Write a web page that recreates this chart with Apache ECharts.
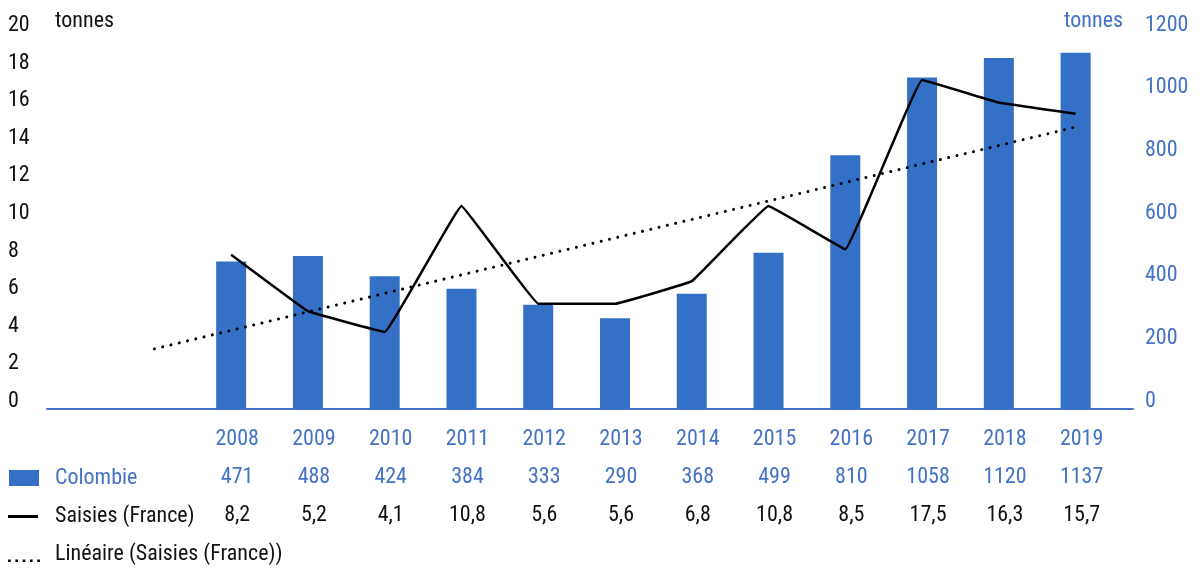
<!DOCTYPE html>
<html>
<head>
<meta charset="utf-8">
<script src="https://cdn.jsdelivr.net/npm/echarts@6/dist/echarts.min.js"></script>
<style>
html,body{margin:0;padding:0;background:#fff;}
#chart{width:1200px;height:579px;}
</style>
</head>
<body>
<div id="chart"></div>
<script>
// ---- data ----
var years = ['', '2008', '2009', '2010', '2011', '2012', '2013', '2014', '2015', '2016', '2017', '2018', '2019'];
var colombie = [null, 471, 488, 424, 384, 333, 290, 368, 499, 810, 1058, 1120, 1137];
var saisies = [null, 8.2, 5.2, 4.1, 10.8, 5.6, 5.6, 6.8, 10.8, 8.5, 17.5, 16.3, 15.7];
// linear trend line endpoints (start one period before 2008, end 2019)
var trend = [3.2, null, null, null, null, null, null, null, null, null, null, null, 15.0];
var leftTicks = [0, 20, 2];
var rightTicks = [0, 1200, 200];

var FONT = '"Roboto Condensed", "Roboto", sans-serif';
var FS = 22;
var BLUE_BAR = '#3370C6';
var BLUE_TXT = '#4472C4';

var chart = echarts.init(document.getElementById('chart'));
chart.setOption({
  animation: false,
  textStyle: { fontFamily: FONT },
  grid: [
    { left: 116, right: 86, top: 33, bottom: 170 },
    { left: 47, right: 67, top: 33, bottom: 170 }
  ],
  legend: {
    orient: 'vertical',
    left: 8,
    top: 466,
    padding: 0,
    itemWidth: 32,
    itemHeight: 16,
    itemGap: 14,
    textStyle: { fontFamily: FONT, fontSize: FS, color: '#111', lineHeight: 24, padding: [0, 0, 0, 10] },
    data: [
      { name: 'Colombie', icon: 'path://M0,0L0,0ZM0,0H30V16H0Z', textStyle: { color: BLUE_TXT } },
      { name: 'Saisies (France)', icon: 'path://M0,0L0,0ZM0,7H30V10H0ZM32,16L32,16Z' },
      { name: 'Linéaire (Saisies (France))', icon: 'path://M0,0L0,0ZM0,13.5H2.6V16H0ZM7.3,13.5H9.9V16H7.3ZM14.6,13.5H17.2V16H14.6ZM21.9,13.5H24.5V16H21.9ZM29.2,13.5H31.8V16H29.2Z' }
    ]
  },
  graphic: [
    { type: 'text', left: 55, top: 10, style: { text: 'tonnes', fontFamily: FONT, fontSize: FS, fill: '#111' } },
    { type: 'text', left: 1064, top: 10, style: { text: 'tonnes', fontFamily: FONT, fontSize: FS, fill: BLUE_TXT } }
  ],
  xAxis: [
    {
      type: 'category',
      gridIndex: 0,
      data: years,
      boundaryGap: true,
      axisLine: { show: false },
      axisTick: { show: false },
      axisLabel: {
        interval: 0,
        margin: 11,
        padding: [0, 0, 0, 12],
        formatter: function (v, i) {
          if (!v) return '';
          var s = String(saisies[i]).replace('.', ',');
          return '{y|' + v + '}\n{c|' + colombie[i] + '}\n{s|' + s + '}';
        },
        rich: {
          y: { fontFamily: FONT, fontSize: FS, color: BLUE_TXT, lineHeight: 38 },
          c: { fontFamily: FONT, fontSize: FS, color: BLUE_TXT, lineHeight: 38 },
          s: { fontFamily: FONT, fontSize: FS, color: '#111', lineHeight: 38 }
        }
      }
    },
    {
      type: 'value',
      gridIndex: 1,
      min: 0, max: 1,
      axisLine: { show: true, lineStyle: { color: BLUE_TXT, width: 2 } },
      axisTick: { show: false },
      axisLabel: { show: false },
      splitLine: { show: false }
    }
  ],
  yAxis: [
    {
      type: 'value',
      gridIndex: 0,
      min: leftTicks[0], max: leftTicks[1], interval: leftTicks[2],
      axisLine: { show: false },
      axisTick: { show: false },
      splitLine: { show: false },
      axisLabel: { align: 'left', verticalAlign: 'bottom', lineHeight: 15, margin: 108, fontFamily: FONT, fontSize: FS, color: '#111' }
    },
    {
      type: 'value',
      gridIndex: 0,
      position: 'right',
      min: rightTicks[0], max: rightTicks[1], interval: rightTicks[2],
      axisLine: { show: false },
      axisTick: { show: false },
      splitLine: { show: false },
      axisLabel: { align: 'left', verticalAlign: 'bottom', lineHeight: 16, margin: 31, fontFamily: FONT, fontSize: FS, color: BLUE_TXT,
        formatter: function (v) { return String(v); } }
    },
    { type: 'value', gridIndex: 1, show: false, min: 0, max: 1 }
  ],
  series: [
    {
      name: 'Colombie',
      type: 'bar',
      xAxisIndex: 0, yAxisIndex: 1,
      data: colombie,
      barWidth: 30,
      itemStyle: { color: BLUE_BAR }
    },
    {
      name: 'Saisies (France)',
      type: 'line',
      xAxisIndex: 0, yAxisIndex: 0,
      data: saisies,
      symbol: 'none',
      smooth: 0.05,
      lineStyle: { color: '#000', width: 2.5 },
      itemStyle: { color: '#000' }
    },
    {
      name: 'Linéaire (Saisies (France))',
      type: 'line',
      xAxisIndex: 0, yAxisIndex: 0,
      data: trend,
      connectNulls: true,
      symbol: 'none',
      lineStyle: { color: '#000', width: 3, type: [0.01, 8.5], cap: 'round' },
      itemStyle: { color: '#000' }
    }
  ]
});
</script>
</body>
</html>
